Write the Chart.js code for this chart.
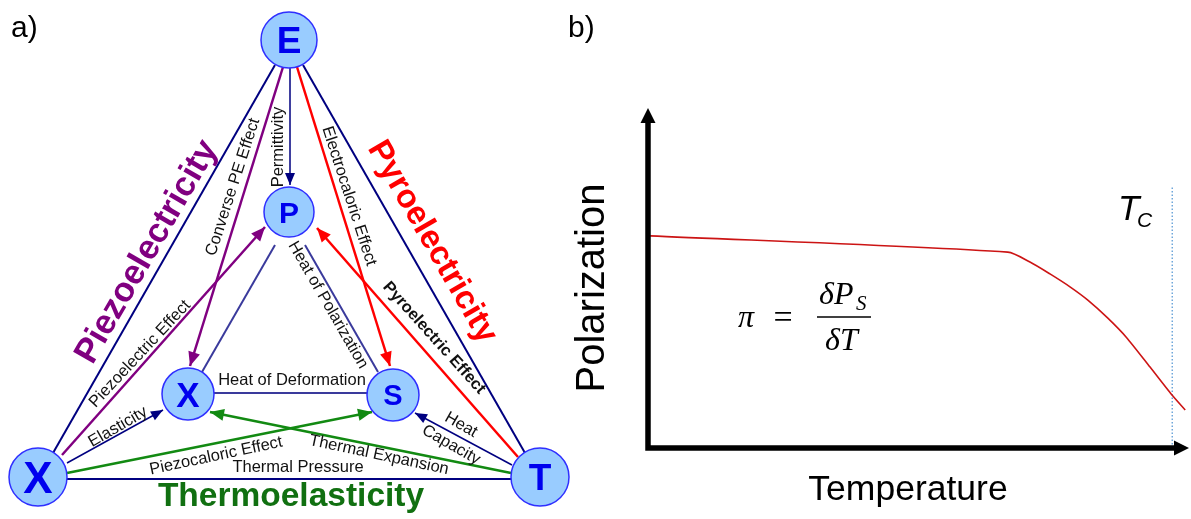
<!DOCTYPE html>
<html>
<head>
<meta charset="utf-8">
<script src="https://cdn.jsdelivr.net/npm/chart.js@4.4.1/dist/chart.umd.min.js"></script>
<style>
  html, body { margin: 0; padding: 0; background: #fff; }
  #wrap { position: relative; width: 1191px; height: 519px; overflow: hidden; }
  canvas { position: absolute; top: 0; }
  #diagram { left: 0; }
  #curve { left: 560px; }
</style>
</head>
<body>
<div id="wrap">
  <canvas id="curve" width="631" height="519"></canvas>
  <canvas id="diagram" width="600" height="519"></canvas>
</div>
<script>
// ---------- Panel a: Heckmann diagram ----------
// Nodes (diagram units, y grows downward)
const nodeNames = ['E', 'P', 'X', 'S', 'X', 'T'];
const nodeX = [289, 289, 188, 393, 38, 540];
const nodeY = [40, 212, 394, 395, 477, 477];

// Couplings: start point, end point (diagram units)
const edgeStartX = [53, 303, 67, 290, 283, 62, 297, 518, 67, 512, 67, 511, 275, 305, 213];
const edgeStartY = [453, 65, 479, 68, 67, 455, 67, 457, 463, 465, 473, 473, 245, 245, 393];
const edgeEndX   = [275, 525, 511, 290, 190, 265, 390, 317, 163, 415, 372, 210, 202, 378, 368];
const edgeEndY   = [65, 453, 479, 185, 366, 227, 366, 228, 410, 413, 412, 412, 372, 372, 393];
const edgeKind   = ['outer', 'outer', 'outer', 'link', 'piezo', 'piezo', 'pyro', 'pyro',
                    'link', 'link', 'thermo', 'thermo', 'inner', 'inner', 'inner'];
const edgeArrow  = [false, false, false, true, true, true, true, true,
                    true, true, true, true, false, false, false];

// ---------- Panel b: polarization vs temperature ----------
const temperature  = [0.4, 66.5, 70.6, 74.3, 78.0, 81.3, 85.0, 88.4, 92.8, 96.7, 99.3];
const polarization = [62.4, 57.6, 54.7, 51.2, 47.4, 43.5, 38.2, 32.6, 23.8, 15.9, 11.2];
const curieTemperature = 96.9;
const curieLineTop = 76.8;

// ---------- styles ----------
const SANS = "'Liberation Sans', Arial, sans-serif";
const SERIF = "'Liberation Serif', 'DejaVu Serif', serif";
const kindStyle = {
  outer:  { color: '#000080', width: 2,   head: [12, 5] },
  link:   { color: '#000080', width: 1.5, head: [12, 5] },
  inner:  { color: '#3a3a9c', width: 2,   head: [12, 5] },
  piezo:  { color: '#800080', width: 2.5, head: [14, 6] },
  pyro:   { color: '#ff0000', width: 2.5, head: [14, 6] },
  thermo: { color: '#128a12', width: 2.5, head: [14, 6] }
};
const nodeRadius = [28, 25, 26, 26, 29, 29];
const nodeFont = [37, 30, 35, 29, 44, 37];

const edgeLabels = [
  { text: 'Converse PE Effect', x: 233, y: 187, a: -72, w: 'normal' },
  { text: 'Permittivity', x: 278, y: 147, a: -90, w: 'normal' },
  { text: 'Electrocaloric Effect', x: 349, y: 196, a: 72, w: 'normal' },
  { text: 'Heat of Polarization', x: 328, y: 305, a: 60, w: 'normal' },
  { text: 'Pyroelectric Effect', x: 434, y: 338, a: 48, w: 'bold' },
  { text: 'Piezoelectric Effect', x: 140, y: 354, a: -47, w: 'normal' },
  { text: 'Elasticity', x: 118, y: 427, a: -30, w: 'normal' },
  { text: 'Heat of Deformation', x: 292, y: 380, a: 0, w: 'normal' },
  { text: 'Piezocaloric Effect', x: 216, y: 456, a: -12, w: 'normal' },
  { text: 'Thermal Expansion', x: 379, y: 455, a: 12, w: 'normal' },
  { text: 'Heat', x: 461, y: 425, a: 30, w: 'normal' },
  { text: 'Capacity', x: 451, y: 445, a: 30, w: 'normal' },
  { text: 'Thermal Pressure', x: 298, y: 467, a: 0, w: 'normal' }
];
const effectTitles = [
  { text: 'Piezoelectricity', x: 147, y: 252, a: -60, size: 34.5, color: '#800080' },
  { text: 'Pyroelectricity', x: 432, y: 242, a: 60, size: 33, color: '#ff0000' },
  { text: 'Thermoelasticity', x: 291, y: 497, a: 0, size: 33.5, color: '#117011' }
];

function rotatedText(ctx, text, x, y, deg, font, color) {
  ctx.save();
  ctx.translate(x, y);
  ctx.rotate(deg * Math.PI / 180);
  ctx.font = font;
  ctx.fillStyle = color;
  ctx.textAlign = 'center';
  ctx.textBaseline = 'middle';
  ctx.fillText(text, 0, 0);
  ctx.restore();
}

const diagramDecor = {
  id: 'diagramDecor',
  afterDatasetsDraw(chart) {
    const ctx = chart.ctx;
    const sx = chart.scales.x, sy = chart.scales.y;
    const px = v => sx.getPixelForValue(v);
    const py = v => sy.getPixelForValue(v);
    ctx.save();
    // arrowheads
    edgeStartX.forEach((_, i) => {
      if (!edgeArrow[i]) return;
      const st = kindStyle[edgeKind[i]];
      const x0 = px(edgeStartX[i]), y0 = py(edgeStartY[i]);
      const x1 = px(edgeEndX[i]), y1 = py(edgeEndY[i]);
      const ang = Math.atan2(y1 - y0, x1 - x0);
      const [len, half] = st.head;
      ctx.save();
      ctx.translate(x1, y1);
      ctx.rotate(ang);
      ctx.fillStyle = st.color;
      ctx.beginPath();
      ctx.moveTo(0, 0);
      ctx.lineTo(-len, -half);
      ctx.lineTo(-len, half);
      ctx.closePath();
      ctx.fill();
      ctx.restore();
    });
    // node letters
    nodeNames.forEach((n, i) => {
      const f = nodeFont[i];
      ctx.font = `bold ${f}px ${SANS}`;
      ctx.fillStyle = '#0000ee';
      ctx.textAlign = 'center';
      ctx.textBaseline = 'alphabetic';
      ctx.fillText(n, px(nodeX[i]), py(nodeY[i]) + f * 0.358);
    });
    // coupling labels
    edgeLabels.forEach(l => {
      rotatedText(ctx, l.text, px(l.x), py(l.y), l.a, `${l.w} 16.5px ${SANS}`, '#111');
    });
    effectTitles.forEach(l => {
      rotatedText(ctx, l.text, px(l.x), py(l.y), l.a, `bold ${l.size}px ${SANS}`, l.color);
    });
    // panel letter
    ctx.font = `30px ${SANS}`;
    ctx.fillStyle = '#000';
    ctx.textAlign = 'left';
    ctx.textBaseline = 'alphabetic';
    ctx.fillText('a)', 11, 37);
    ctx.restore();
  }
};

const edgeDatasets = edgeStartX.map((_, i) => ({
  type: 'line',
  data: [{ x: edgeStartX[i], y: edgeStartY[i] }, { x: edgeEndX[i], y: edgeEndY[i] }],
  borderColor: kindStyle[edgeKind[i]].color,
  borderWidth: kindStyle[edgeKind[i]].width,
  pointRadius: 0,
  fill: false,
  tension: 0,
  order: 2
}));

new Chart(document.getElementById('diagram'), {
  type: 'bubble',
  data: {
    datasets: [
      {
        type: 'bubble',
        data: nodeNames.map((_, i) => ({ x: nodeX[i], y: nodeY[i], r: nodeRadius[i] })),
        backgroundColor: '#99ccff',
        borderColor: '#2f2fff',
        borderWidth: 1.5,
        order: 0
      },
      ...edgeDatasets
    ]
  },
  options: {
    responsive: false,
    animation: false,
    events: [],
    layout: { padding: 0, autoPadding: false },
    plugins: { legend: { display: false }, tooltip: { enabled: false } },
    scales: {
      x: { type: 'linear', min: 0, max: 600, display: false },
      y: { type: 'linear', min: 0, max: 519, reverse: true, display: false }
    }
  },
  plugins: [diagramDecor]
});

// ---------- Panel b ----------
const curveDecor = {
  id: 'curveDecor',
  afterDraw(chart) {
    const ctx = chart.ctx;
    const a = chart.chartArea;
    ctx.save();
    // axes with arrowheads
    ctx.strokeStyle = '#000';
    ctx.fillStyle = '#000';
    ctx.lineWidth = 5.5;
    ctx.beginPath();
    ctx.moveTo(a.left, a.bottom + 2.75);
    ctx.lineTo(a.left, a.top + 12);
    ctx.moveTo(a.left - 2.75, a.bottom);
    ctx.lineTo(a.right - 12, a.bottom);
    ctx.stroke();
    ctx.beginPath();
    ctx.moveTo(a.left, a.top);
    ctx.lineTo(a.left - 7.5, a.top + 15);
    ctx.lineTo(a.left + 7.5, a.top + 15);
    ctx.closePath();
    ctx.fill();
    ctx.beginPath();
    ctx.moveTo(a.right, a.bottom);
    ctx.lineTo(a.right - 15, a.bottom - 7.5);
    ctx.lineTo(a.right - 15, a.bottom + 7.5);
    ctx.closePath();
    ctx.fill();

    // axis titles
    ctx.font = `35.5px ${SANS}`;
    ctx.textAlign = 'center';
    ctx.textBaseline = 'alphabetic';
    ctx.fillText('Temperature', 348, 500);
    ctx.save();
    ctx.translate(44, 288);
    ctx.rotate(-Math.PI / 2);
    ctx.font = `40px ${SANS}`;
    ctx.fillText('Polarization', 0, 0);
    ctx.restore();

    // panel letter
    ctx.font = `30px ${SANS}`;
    ctx.textAlign = 'left';
    ctx.fillText('b)', 8, 37);

    // Curie temperature label
    ctx.font = `italic 35px ${SANS}`;
    ctx.fillText('T', 558, 220);
    ctx.font = `italic 21px ${SANS}`;
    ctx.fillText('C', 577, 227);

    // pyroelectric coefficient
    ctx.font = `italic 32px ${SERIF}`;
    ctx.textAlign = 'left';
    ctx.fillText('\u03C0', 178, 327);
    ctx.font = `34px ${SERIF}`;
    ctx.textAlign = 'center';
    ctx.fillText('=', 223, 328);
    ctx.lineWidth = 1.5;
    ctx.beginPath();
    ctx.moveTo(257, 317);
    ctx.lineTo(311, 317);
    ctx.stroke();
    ctx.font = `italic 32px ${SERIF}`;
    ctx.textAlign = 'left';
    ctx.fillText('\u03B4P', 259, 304);
    ctx.font = `italic 21px ${SERIF}`;
    ctx.fillText('S', 296, 310);
    ctx.font = `italic 32px ${SERIF}`;
    ctx.fillText('\u03B4T', 265, 350);
    ctx.restore();
  }
};

new Chart(document.getElementById('curve'), {
  type: 'line',
  data: {
    datasets: [
      {
        data: temperature.map((t, i) => ({ x: t, y: polarization[i] })),
        borderColor: '#cc1414',
        borderWidth: 1.6,
        pointRadius: 0,
        tension: 0.25,
        fill: false
      },
      {
        data: [{ x: curieTemperature, y: 0 }, { x: curieTemperature, y: curieLineTop }],
        borderColor: '#5b9bd5',
        borderWidth: 1.3,
        borderDash: [1.5, 2],
        pointRadius: 0,
        fill: false
      }
    ]
  },
  options: {
    responsive: false,
    animation: false,
    events: [],
    layout: { padding: { left: 88, right: 2, top: 108, bottom: 71 }, autoPadding: false },
    plugins: { legend: { display: false }, tooltip: { enabled: false } },
    scales: {
      x: { type: 'linear', min: 0, max: 100, display: false },
      y: { type: 'linear', min: 0, max: 100, display: false }
    }
  },
  plugins: [curveDecor]
});
</script>
</body>
</html>
